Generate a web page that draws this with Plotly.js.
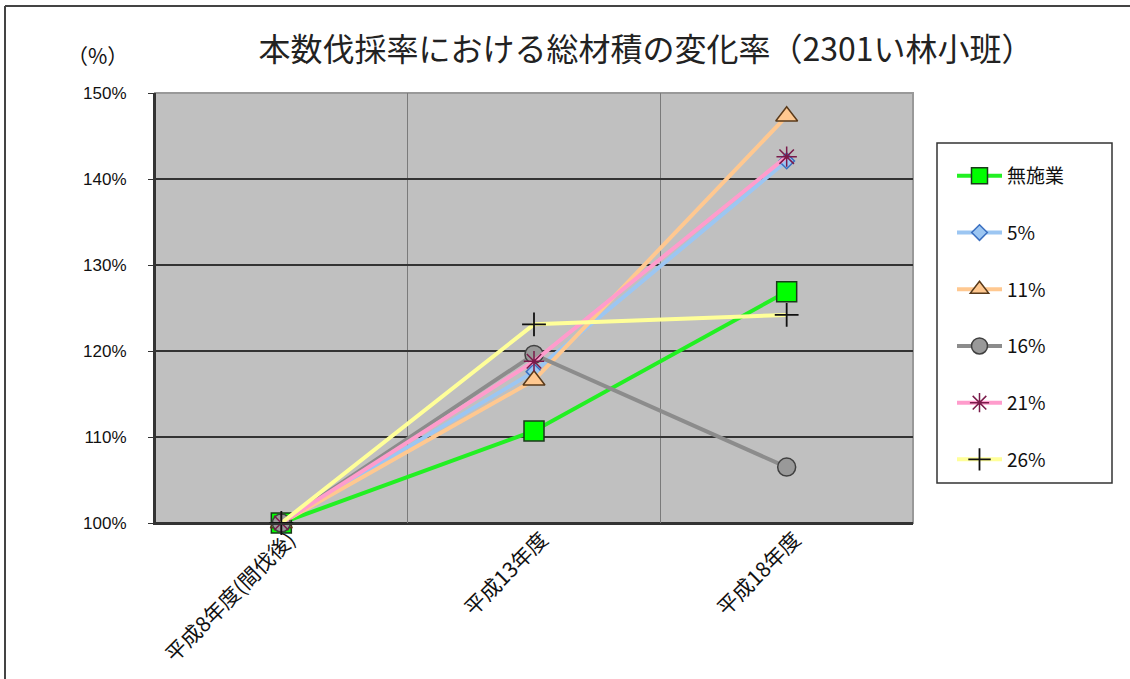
<!DOCTYPE html>
<html>
<head>
<meta charset="utf-8">
<script src="https://cdn.plot.ly/plotly-3.0.1.min.js"></script>
<style>
  html, body { margin: 0; padding: 0; background: #fff; }
  #chart { width: 1130px; height: 679px; }
</style>
</head>
<body>
<div id="chart"></div>
<script>
// Survey years (category axis)
const years = ['平成8年度(間伐後)', '平成13年度', '平成18年度'];

// Change rate of total stand volume (%) per thinning rate
const seriesNames = ['無施業', '5%', '11%', '16%', '21%', '26%'];
const noTreatment = [100, 110.7, 126.9];
const rate5 = [100, 117.6, 142.1];
const rate11 = [100, 116.6, 147.3];
const rate16 = [100, 119.6, 106.5];
const rate21 = [100, 118.8, 142.6];
const rate26 = [100, 123.1, 124.2];

const yTicks = [100, 110, 120, 130, 140, 150];

const seriesValues = [noTreatment, rate5, rate11, rate16, rate21, rate26];

const styles = [
  { line: '#22f022', marker: { symbol: 'square', size: 20, color: '#00ff00', line: { color: '#1a3a1a', width: 1.5 } } },
  { line: '#9cc6f2', marker: { symbol: 'diamond', size: 12, color: '#9cc6f2', line: { color: '#3a6fc0', width: 1.5 } } },
  { line: '#ffc890', marker: { symbol: 'triangle-up', size: 19, color: '#ffc890', line: { color: '#5a3a1a', width: 1.5 } } },
  { line: '#8c8c8c', marker: { symbol: 'circle', size: 18, color: '#999999', line: { color: '#404040', width: 1.5 } } },
  { line: '#ff9ccc', marker: { symbol: 'asterisk-open', size: 17, color: '#7a1a4a', line: { color: '#7a1a4a', width: 1.5 } } },
  { line: '#ffff99', marker: { symbol: 'cross-thin-open', size: 17, color: '#111111', line: { color: '#111111', width: 1.8 } } }
];

const baseFont = 'Liberation Sans, Arial, "Noto Sans CJK JP", sans-serif';
const jpFont = '"Noto Sans CJK JP", "Liberation Sans", sans-serif';

const traces = seriesNames.map((name, i) => ({
  type: 'scatter',
  mode: 'lines+markers',
  name: name,
  legendgroup: 'g' + i,
  x: years,
  y: seriesValues[i],
  cliponaxis: false,
  line: { color: styles[i].line, width: 4 },
  marker: styles[i].marker
}));

// pixel -> paper helpers for the 758x430 plot area
const px = v => (v - 155) / 758;
const py = v => (523 - v) / 430;

const layout = {
  width: 1130,
  height: 679,
  margin: { l: 155, r: 217, t: 93, b: 156 },
  paper_bgcolor: '#ffffff',
  plot_bgcolor: '#c0c0c0',
  font: { family: baseFont, color: '#111111', size: 17 },
  title: {
    text: '本数伐採率における総材積の変化率（2301い林小班）',
    font: { family: jpFont, size: 32, color: '#222222' },
    x: 646 / 1130, xref: 'container', xanchor: 'center',
    y: 1 - 50 / 679, yref: 'container', yanchor: 'middle'
  },
  showlegend: true,
  legend: {
    x: px(952), xanchor: 'left',
    y: py(157), yanchor: 'top',
    bgcolor: 'rgba(0,0,0,0)',
    borderwidth: 0,
    font: { family: jpFont, size: 19, color: '#111111' },
    tracegroupgap: 29,
    itemwidth: 45,
    traceorder: 'grouped'
  },
  xaxis: {
    type: 'category',
    range: [-0.5, 2.5],
    tickson: 'boundaries',
    showgrid: true,
    gridcolor: '#7a7a7a',
    gridwidth: 1,
    showline: true,
    linecolor: '#333333',
    linewidth: 2,
    ticks: '',
    tickangle: -45,
    ticklabelshift: 8,
    ticklabelstandoff: -6,
    tickfont: { family: jpFont, size: 21, color: '#111111' },
    fixedrange: true
  },
  yaxis: {
    range: [100, 150],
    tickvals: yTicks,
    ticktext: yTicks.map(v => v + '%'),
    showgrid: true,
    gridcolor: '#333333',
    gridwidth: 1.5,
    zeroline: false,
    showline: true,
    linecolor: '#333333',
    linewidth: 2,
    ticks: 'outside',
    ticklen: 5,
    tickcolor: '#333333',
    ticklabelstandoff: 18,
    tickfont: { family: baseFont, size: 17, color: '#111111' },
    fixedrange: true
  },
  shapes: [
    { type: 'rect', xref: 'paper', yref: 'paper', x0: 0, x1: 1, y0: 0, y1: 1,
      line: { color: '#999999', width: 2 }, layer: 'between' },
    { type: 'line', xref: 'paper', yref: 'paper', x0: 0, x1: 0, y0: 0, y1: 1,
      line: { color: '#333333', width: 2 }, layer: 'between' },
    { type: 'line', xref: 'paper', yref: 'paper', x0: 0, x1: 1, y0: 0, y1: 0,
      line: { color: '#333333', width: 2 }, layer: 'between' },
    // legend box
    { type: 'rect', xref: 'paper', yref: 'paper', x0: px(937), x1: px(1112), y0: py(483), y1: py(143),
      line: { color: '#333333', width: 1.5 }, fillcolor: 'rgba(0,0,0,0)' },
    // frame of the chart area (top and left edges)
    { type: 'line', xref: 'paper', yref: 'paper', x0: px(5), x1: px(1130), y0: py(6), y1: py(6),
      line: { color: '#444444', width: 2 } },
    { type: 'line', xref: 'paper', yref: 'paper', x0: px(5), x1: px(5), y0: py(6), y1: py(679),
      line: { color: '#444444', width: 2 } }
  ],
  annotations: [
    { text: '（%）', xref: 'paper', yref: 'paper', x: px(97), y: py(55),
      xanchor: 'center', yanchor: 'middle', showarrow: false,
      font: { family: jpFont, size: 21, color: '#111111' } }
  ]
};

Plotly.newPlot('chart', traces, layout, { displayModeBar: false, staticPlot: true });
</script>
</body>
</html>
